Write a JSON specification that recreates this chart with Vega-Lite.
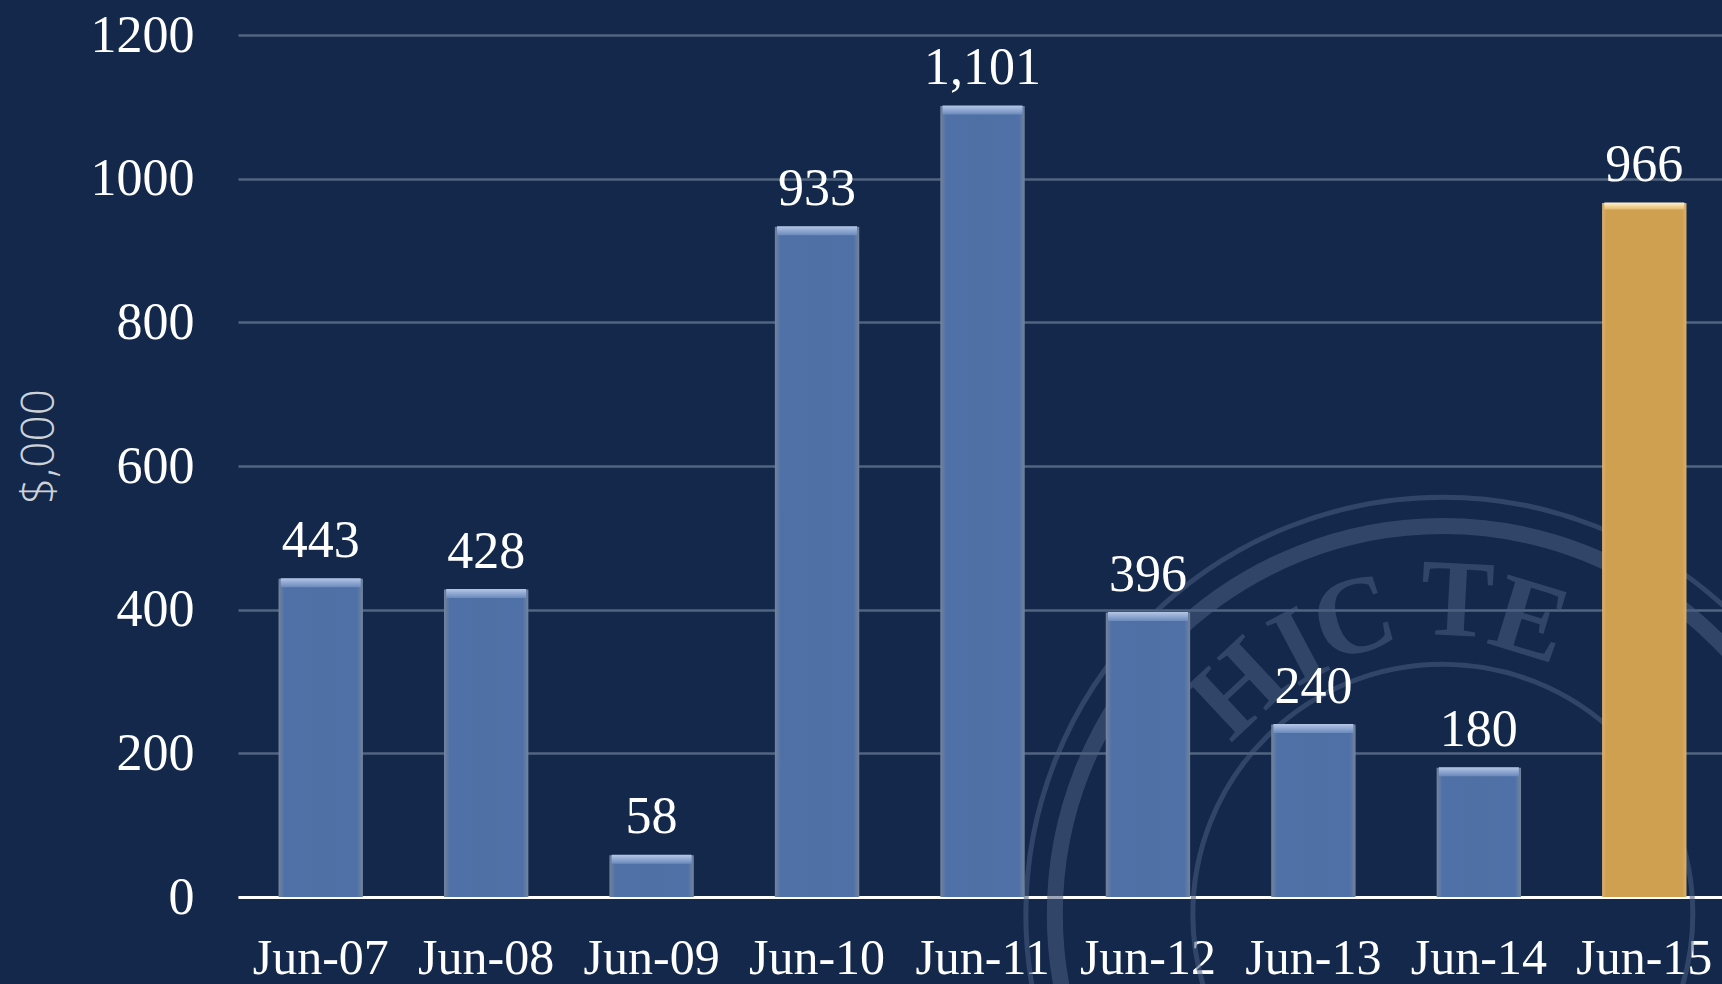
{
"$schema":"https://vega.github.io/schema/vega-lite/v6.json",
"width":1484,"height":862,
"autosize":{"type":"none"},
"padding":{"left":238,"top":35,"right":0,"bottom":87},
"background":"#14284b",
"view":{"stroke":null},
"datasets":{
"bars":[
{"month":"Jun-07","value":443,"kind":"past"},
{"month":"Jun-08","value":428,"kind":"past"},
{"month":"Jun-09","value":58,"kind":"past"},
{"month":"Jun-10","value":933,"kind":"past"},
{"month":"Jun-11","value":1101,"kind":"past"},
{"month":"Jun-12","value":396,"kind":"past"},
{"month":"Jun-13","value":240,"kind":"past"},
{"month":"Jun-14","value":180,"kind":"past"},
{"month":"Jun-15","value":966,"kind":"current"}],
"seal":[{"month":"Jun-14","value":-24}],
"h":[{"letter":"H","month":"Jun-13","value":288}],
"i":[{"letter":"I","month":"Jun-13","value":346}],
"c":[{"letter":"C","month":"Jun-13","value":386}],
"t":[{"letter":"T","month":"Jun-14","value":410}],
"e":[{"letter":"E","month":"Jun-14","value":383}]
},
"data":{"name":"bars"},
"encoding":{
"x":{"field":"month","type":"nominal","sort":null,
"scale":{"domain":["Jun-07","Jun-08","Jun-09","Jun-10","Jun-11","Jun-12","Jun-13","Jun-14","Jun-15"],"range":[0,1489],"paddingInner":0.49,"paddingOuter":0.245},
"axis":{"title":null,"labelAngle":0,"labelFont":"Liberation Serif","labelFontSize":50,"labelColor":"#ffffff","labelPadding":36,"ticks":false,"grid":false,"domainColor":"#ffffff","domainWidth":3,"labelOverlap":false,"labelBound":false,"labelFlush":false}},
"y":{"field":"value","type":"quantitative",
"scale":{"domain":[0,1200],"nice":false,"zero":false},
"axis":{"title":"$,000","values":[0,200,400,600,800,1000,1200],"format":"d","labelFont":"Liberation Serif","labelFontSize":52,"labelColor":"#ffffff","labelPadding":44,"ticks":false,"domain":false,"grid":true,"gridColor":"#50657f","gridWidth":2.5,"titleFont":"Open Sans","titleFontWeight":300,"titleFontSize":46,"titleColor":"#cdd2d8","titleX":-175,"titleY":411,"labelBound":false,"labelFlush":false}}
},
"layer":[
{"data":{"name":"seal"},"mark":{"type":"point","shape":"circle","filled":false,"size":695556,"stroke":"#4a5e80","strokeWidth":5,"opacity":0.55,"xOffset":-36,"clip":false}},
{"data":{"name":"seal"},"mark":{"type":"point","shape":"circle","filled":false,"size":602176,"stroke":"#4a5e80","strokeWidth":16,"opacity":0.55,"xOffset":-36,"clip":false}},
{"data":{"name":"seal"},"mark":{"type":"point","shape":"circle","filled":false,"size":250000,"stroke":"#4a5e80","strokeWidth":5,"opacity":0.55,"xOffset":-36,"clip":false}},
{"data":{"name":"h"},"mark":{"type":"text","font":"Liberation Serif","fontSize":110,"fontWeight":"bold","color":"#4a5e80","opacity":0.55,"angle":317,"xOffset":-74,"baseline":"middle"},"encoding":{"text":{"field":"letter"}}},
{"data":{"name":"i"},"mark":{"type":"text","font":"Liberation Serif","fontSize":110,"fontWeight":"bold","color":"#4a5e80","opacity":0.55,"angle":332,"xOffset":-14,"baseline":"middle"},"encoding":{"text":{"field":"letter"}}},
{"data":{"name":"c"},"mark":{"type":"text","font":"Liberation Serif","fontSize":110,"fontWeight":"bold","color":"#4a5e80","opacity":0.55,"angle":343,"xOffset":41,"baseline":"middle"},"encoding":{"text":{"field":"letter"}}},
{"data":{"name":"t"},"mark":{"type":"text","font":"Liberation Serif","fontSize":110,"fontWeight":"bold","color":"#4a5e80","opacity":0.55,"angle":3,"xOffset":-22,"baseline":"middle"},"encoding":{"text":{"field":"letter"}}},
{"data":{"name":"e"},"mark":{"type":"text","font":"Liberation Serif","fontSize":110,"fontWeight":"bold","color":"#4a5e80","opacity":0.55,"angle":17,"xOffset":51,"baseline":"middle"},"encoding":{"text":{"field":"letter"}}},
{"transform":[{"filter":"datum.kind === 'past'"}],"mark":{"type":"bar","color":{"gradient":"linear","x1":0,"x2":1,"y1":0,"y2":0,"stops":[{"offset":0,"color":"#74849c"},{"offset":0.07,"color":"#4f71a8"},{"offset":0.5,"color":"#4f70a4"},{"offset":0.93,"color":"#4f71a8"},{"offset":1,"color":"#74849c"}]}}},
{"transform":[{"filter":"datum.kind === 'current'"}],"mark":{"type":"bar","color":{"gradient":"linear","x1":0,"x2":1,"y1":0,"y2":0,"stops":[{"offset":0,"color":"#d8b070"},{"offset":0.05,"color":"#cfa050"},{"offset":0.95,"color":"#cfa050"},{"offset":1,"color":"#d8b070"}]}}},
{"transform":[{"filter":"datum.kind === 'past'"}],"mark":{"type":"tick","size":80,"thickness":9,"yOffset":4,"opacity":1,"color":{"gradient":"linear","x1":0,"x2":0,"y1":0,"y2":1,"stops":[{"offset":0,"color":"#b4c6e6"},{"offset":1,"color":"#6a8abb"}]}}},
{"transform":[{"filter":"datum.kind === 'current'"}],"mark":{"type":"tick","size":80,"thickness":7,"yOffset":3,"opacity":1,"color":{"gradient":"linear","x1":0,"x2":0,"y1":0,"y2":1,"stops":[{"offset":0,"color":"#fdf2cf"},{"offset":1,"color":"#e4b868"}]}}},
{"mark":{"type":"text","font":"Liberation Serif","fontSize":52,"color":"#ffffff","baseline":"alphabetic","dy":-22},"encoding":{"text":{"field":"value","type":"quantitative","format":","}}}
]
}
